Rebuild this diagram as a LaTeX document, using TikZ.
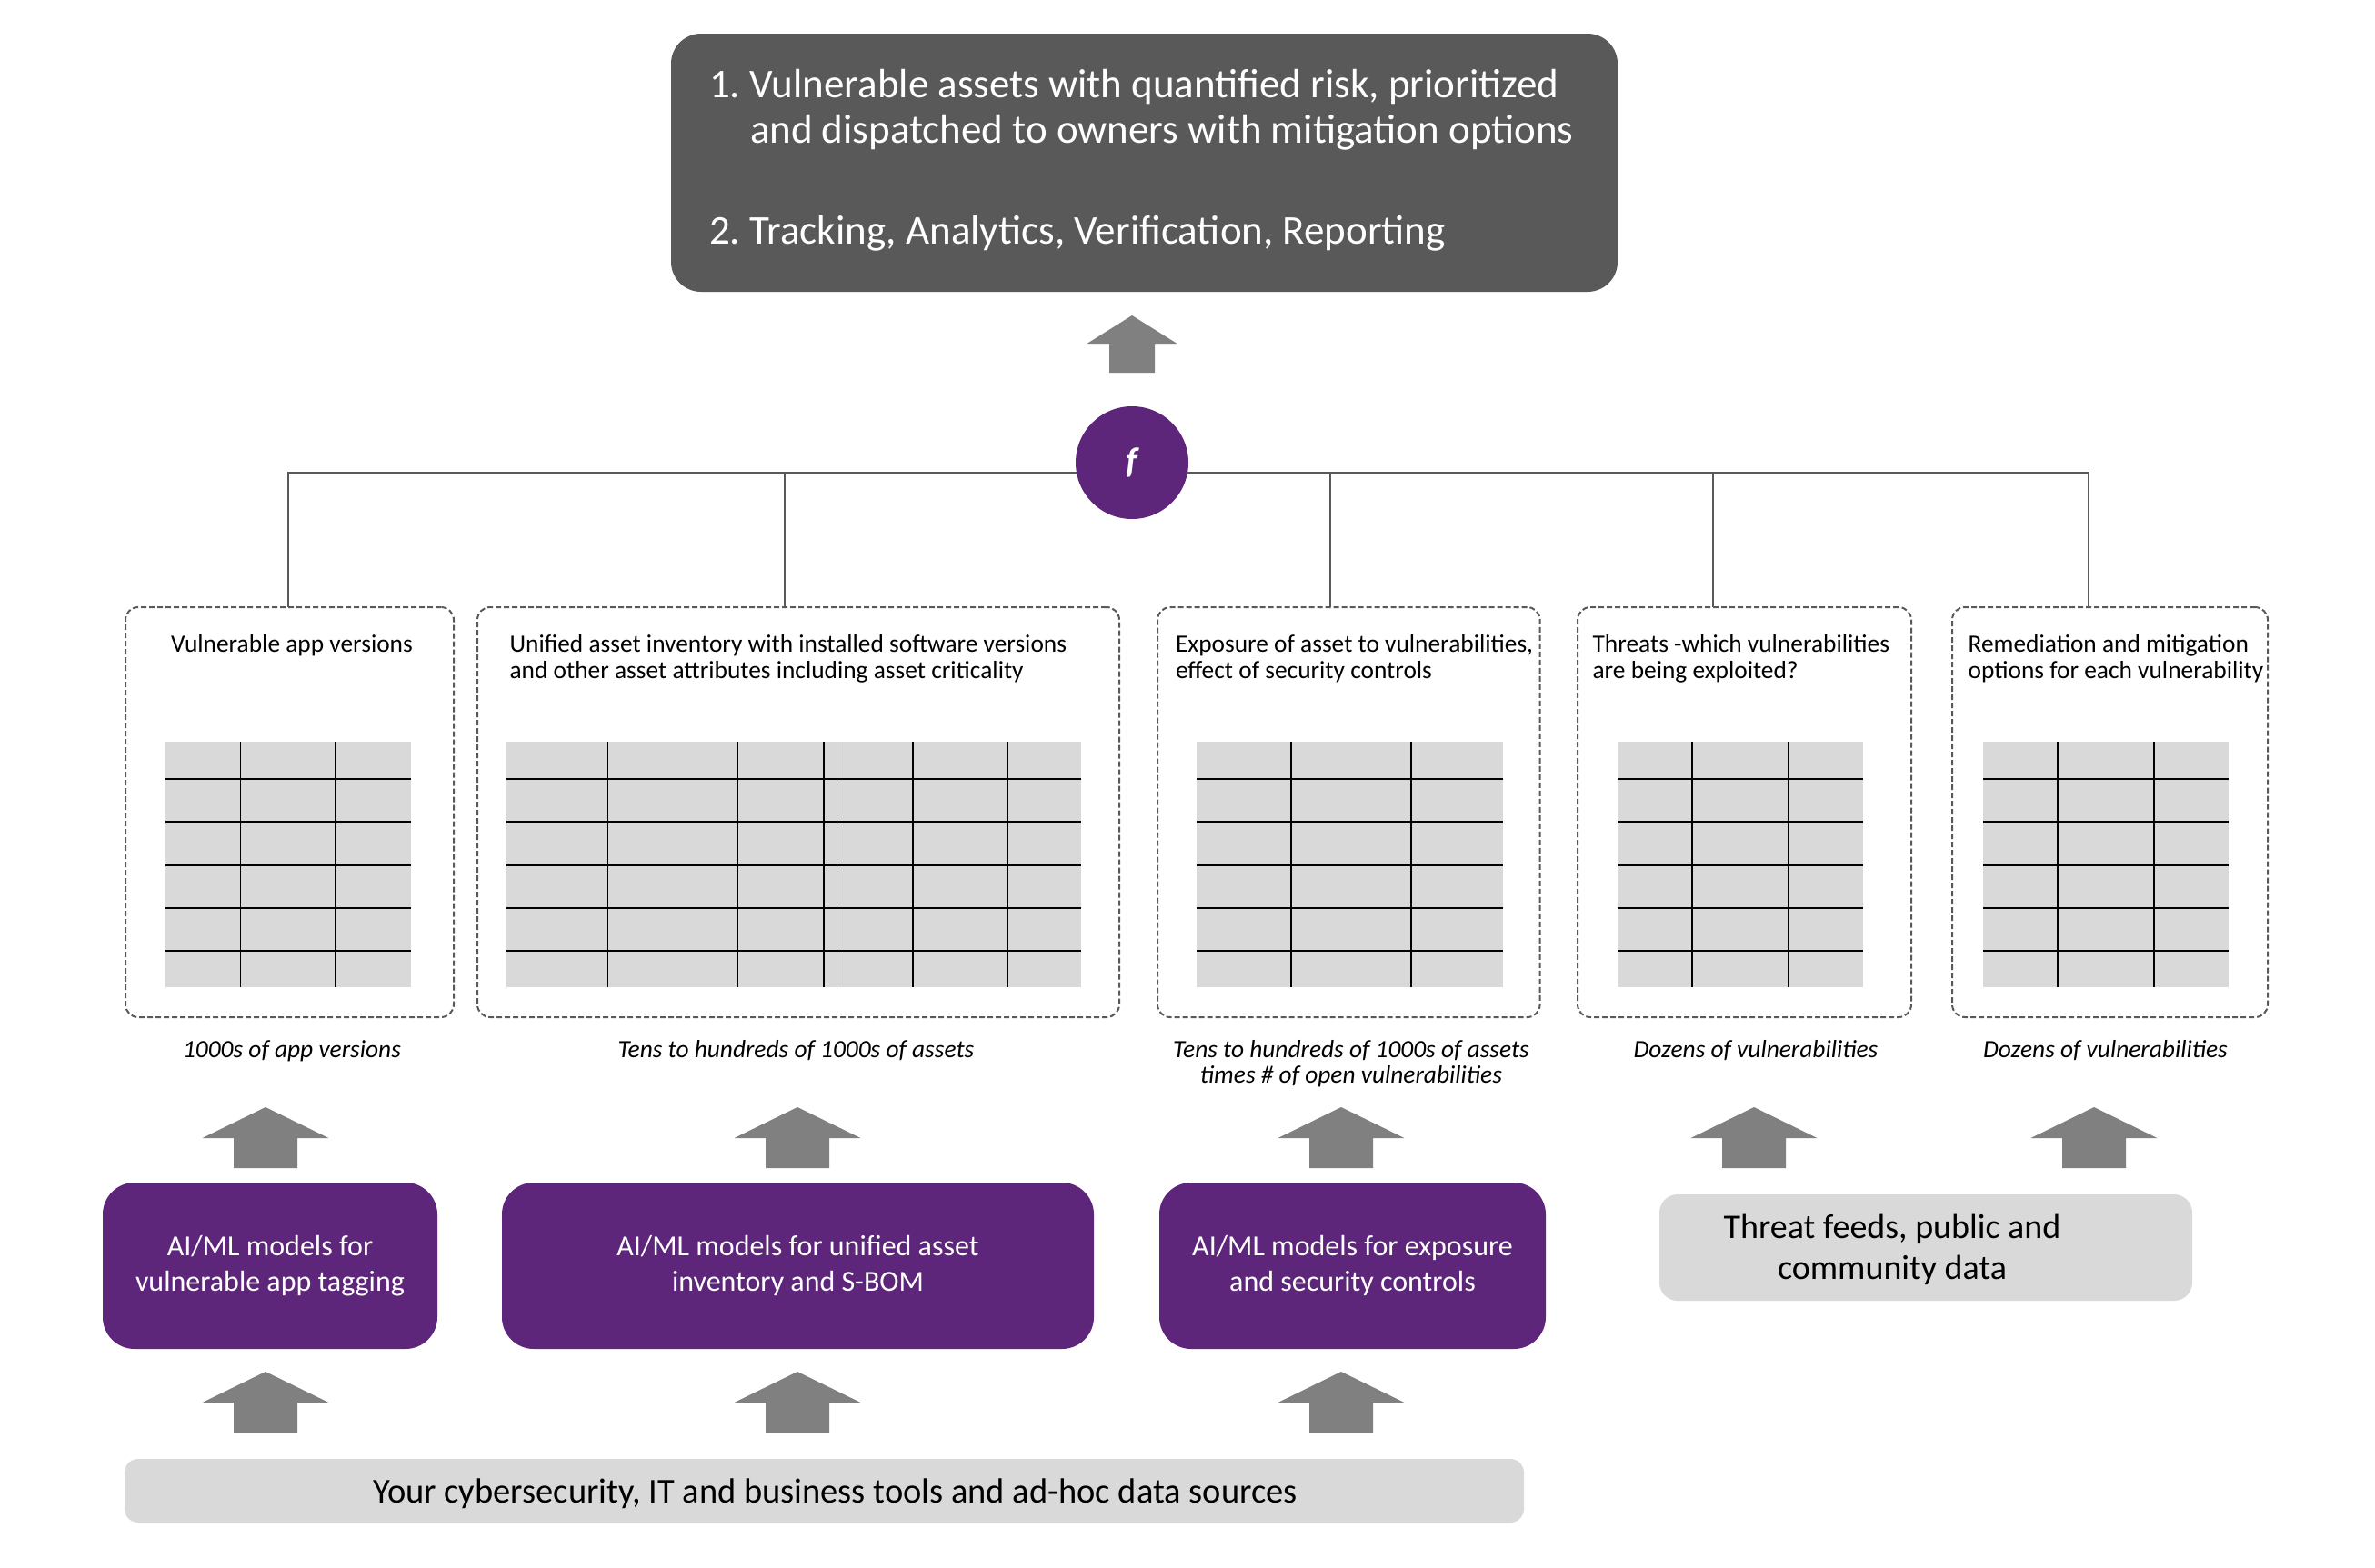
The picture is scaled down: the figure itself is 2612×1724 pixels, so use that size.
\documentclass[tikz,border=0pt]{standalone}
\usepackage{fontspec}
\setmainfont{Carlito}
\frenchspacing
\definecolor{topgray}{HTML}{595959}
\definecolor{vpurple}{RGB}{93,38,122}
\definecolor{arrowgray}{HTML}{808080}
\definecolor{lightgray}{HTML}{D9D9D9}
\definecolor{linegray}{HTML}{595959}
\newcommand\datatable[3]{%
  \fill[lightgray] (#1,816) rectangle (#2,1086);
  \foreach \yy in {857,904,952,1046} {\draw[gridline] (#1,\yy) -- (#2,\yy);}
  \draw[gridline, line width=2pt] (#1,999) -- (#2,999);
  \foreach \xx in {#3} {\draw[gridline] (\xx,816) -- (\xx,1086);}
}
\begin{document}
\begin{tikzpicture}[x=1pt,y=-1pt,
  every node/.style={inner sep=0pt, outer sep=0pt},
  topbox/.style={fill=topgray, rounded corners=33pt, minimum width=1041pt, minimum height=284pt},
  toptext/.style={text=white, align=left, font=\fontsize{45pt}{50pt}\selectfont},
  fnode/.style={circle, fill=vpurple, minimum size=124pt, text=white, font=\fontsize{40pt}{44pt}\selectfont\bfseries\itshape},
  dashbox/.style={draw=linegray, line width=2pt, dash pattern=on 6pt off 3pt, rounded corners=14pt, minimum height=451pt},
  titletext/.style={font=\fontsize{27.4pt}{29pt}\selectfont, align=left},
  countlabel/.style={font=\fontsize{27.4pt}{28.5pt}\selectfont\itshape, align=center},
  modelbox/.style={fill=vpurple, rounded corners=35pt, minimum height=183pt, text=white, align=center,
    font=\fontsize{32pt}{39pt}\selectfont},
  feedbox/.style={fill=lightgray, rounded corners=20pt},
  feedtext/.style={font=\fontsize{38pt}{45pt}\selectfont, align=center},
  bus/.style={draw=linegray, line width=2pt},
  gridline/.style={draw=black, line width=1.3pt},
  bigarrow/.pic={\fill[arrowgray] (0,0) -- (69.5,34) -- (35,34) -- (35,67) -- (-35,67) -- (-35,34) -- (-69.5,34) -- cycle;},
  smallarrow/.pic={\fill[arrowgray] (0,0) -- (49.5,31) -- (25,31) -- (25,63) -- (-25,63) -- (-25,31) -- (-49.5,31) -- cycle;}
]
\useasboundingbox (0,0) rectangle (2612,1724);

% output box
\node[topbox] (out) at (1258.5,179) {};
\node[toptext, anchor=base west] (outtext) at (780,268) {1. Vulnerable assets with quantified risk, prioritized\\
\hspace*{45pt}and dispatched to owners with mitigation options\\[61pt]
2. Tracking, Analytics, Verification, Reporting};

% dashed data boxes
\node[dashbox, minimum width=361pt] (b1) at (318.5,893.5) {};
\node[dashbox, minimum width=706pt] (b2) at (878,893.5) {};
\node[dashbox, minimum width=420.6pt] (b3) at (1483.3,893.5) {};
\node[dashbox, minimum width=367pt] (b4) at (1918.5,893.5) {};
\node[dashbox, minimum width=347pt] (b5) at (2320.5,893.5) {};

% bus
\coordinate (bus1) at (317,520);
\coordinate (bus2) at (863,520);
\coordinate (bus3) at (1463,520);
\coordinate (bus4) at (1884,520);
\coordinate (bus5) at (2297,520);
\draw[bus] (b1.north -| bus1) -- (bus1) -- (bus5) -- (b5.north -| bus5);
\draw[bus] (bus2) -- (b2.north -| bus2);
\draw[bus] (bus3) -- (b3.north -| bus3);
\draw[bus] (bus4) -- (b4.north -| bus4);

% f circle
\node[fnode] (fc) at (1245,509) {f};
\pic at (1245,347) {smallarrow};

% titles (base = last line)
\node[titletext, anchor=base] (t1) at (321,717) {Vulnerable app versions};
\node[titletext, anchor=base west] (t2) at (560.6,746) {Unified asset inventory with installed software versions\\and other asset attributes including asset criticality};
\node[titletext, anchor=base west] (t3) at (1293,746) {Exposure of asset to vulnerabilities,\\effect of security controls};
\node[titletext, anchor=base west] (t4) at (1751.6,746) {Threats -which vulnerabilities\\are being exploited?};
\node[titletext, anchor=base west] (t5) at (2164.6,746) {Remediation and mitigation\\options for each vulnerability};

% tables
\datatable{182}{452}{264.5,369}
\datatable{557}{1189}{668.5,811,906,1004,1108}
\draw[white!85!lightgray, line width=1pt] (920,816) -- (920,1086);
\datatable{1316}{1653}{1420,1552}
\datatable{1779}{2048.5}{1861,1967}
\datatable{2181}{2450.6}{2263,2369}

% count labels
\node[countlabel, anchor=base] (l1) at (321,1163) {1000s of app versions};
\node[countlabel, anchor=base] (l2) at (875.5,1163) {Tens to hundreds of 1000s of assets};
\node[countlabel, anchor=base] (l3) at (1486,1191.5) {Tens to hundreds of 1000s of assets\\times \# of open vulnerabilities};
\node[countlabel, anchor=base] (l4) at (1931,1163) {Dozens of vulnerabilities};
\node[countlabel, anchor=base] (l5) at (2315.5,1163) {Dozens of vulnerabilities};

% middle arrows
\pic at (292,1218) {bigarrow};
\pic at (877,1218) {bigarrow};
\pic at (1475,1218) {bigarrow};
\pic at (1929,1218) {bigarrow};
\pic at (2303,1218) {bigarrow};

% model boxes
\node[modelbox, minimum width=368pt] (pa) at (297,1392.5) {AI/ML models for\\vulnerable app tagging};
\node[modelbox, minimum width=651pt] (pb) at (877.5,1392.5) {AI/ML models for unified asset\\inventory and S-BOM};
\node[modelbox, minimum width=425pt] (pc) at (1487.5,1392.5) {AI/ML models for exposure\\and security controls};

% threat feeds
\node[feedbox, minimum width=586pt, minimum height=117pt] (tf) at (2118,1372.5) {};
\node[feedtext, anchor=base] (tftext) at (2081,1407) {Threat feeds, public and\\community data};

% bottom arrows
\pic at (292,1509) {bigarrow};
\pic at (877,1509) {bigarrow};
\pic at (1475,1509) {bigarrow};

% sources bar
\node[fill=lightgray, rounded corners=15pt, minimum width=1539pt, minimum height=70pt] (src) at (906.5,1640) {};
\node[feedtext, anchor=base, font=\fontsize{38.5pt}{45pt}\selectfont] (srctext) at (918.5,1653) {Your cybersecurity, IT and business tools and ad-hoc data sources};
\end{tikzpicture}
\end{document}
